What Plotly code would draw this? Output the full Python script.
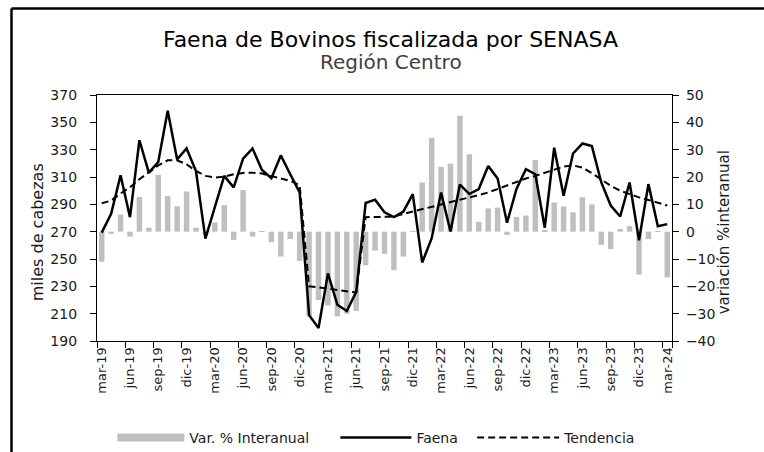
import plotly.graph_objects as go

# --- data (mar-19 .. mar-24) ---
meses = ["ene", "feb", "mar", "abr", "may", "jun", "jul", "ago", "sep", "oct", "nov", "dic"]
periodos = []
for anio in range(19, 25):
    for m in meses:
        periodos.append(f"{m}-{anio}")
periodos = periodos[periodos.index("mar-19"):periodos.index("mar-24") + 1]

faena = [
    269.3, 283.0, 311.3, 280.6, 336.9, 313.2, 321.0, 358.4, 322.9, 330.9,
    314.4, 264.9, 287.9, 310.8, 302.4, 323.4, 330.9, 315.2, 309.1, 325.8,
    312.0, 298.7, 208.9, 199.5, 239.5, 216.5, 212.0, 226.0, 291.0, 293.4,
    284.2, 280.6, 284.7, 297.5, 247.5, 265.0, 298.7, 270.2, 304.5, 297.5,
    301.2, 318.1, 308.9, 276.5, 301.2, 315.7, 312.0, 272.9, 331.4, 296.3,
    327.2, 334.5, 332.6, 306.0, 289.1, 281.1, 306.0, 263.7, 304.8, 273.9,
    275.5,
]

tendencia = [
    290.8, 292.7, 298.0, 302.4, 308.4, 313.2, 318.5, 322.2, 322.2, 319.3,
    314.4, 310.8, 309.6, 310.3, 312.0, 313.0, 313.2, 312.5, 310.8, 308.9,
    307.2, 304.0, 230.0, 229.2, 228.2, 227.2, 226.3, 225.5, 280.6, 280.6,
    280.6, 281.0, 283.0, 284.7, 286.2, 287.9, 289.6, 291.5, 293.4, 295.1,
    296.8, 298.7, 301.2, 304.0, 306.5, 308.9, 310.8, 313.0, 315.7, 317.6,
    318.5, 316.9, 312.8, 307.9, 303.6, 300.0, 297.5, 295.1, 293.2, 291.0,
    289.1,
]

var_interanual = [
    -11.0, -0.8, 6.3, -1.8, 12.7, 1.4, 20.8, 13.0, 9.3, 14.7,
    1.4, -1.0, 3.4, 9.7, -3.0, 15.2, -1.8, 0.2, -3.9, -9.1,
    -2.7, -10.7, -31.0, -25.0, -27.0, -31.0, -30.0, -29.0, -12.3, -6.9,
    -8.1, -14.1, -9.1, 0.2, 18.0, 34.3, 23.7, 24.9, 42.4, 28.3,
    3.6, 8.5, 8.8, -1.2, 5.4, 5.9, 26.2, 0.5, 10.7, 9.2,
    7.1, 12.6, 10.0, -4.8, -6.4, 1.0, 2.0, -15.7, -2.7, 0.2,
    -16.7,
]

etiquetas_x = periodos[::3]

FONT = "DejaVu Sans"
TXT = "#1a1a1a"
GRIS = "#bfbfbf"

fig = go.Figure()

# bars go on the base axis (right side) so the lines are drawn above them
fig.add_trace(go.Bar(
    x=periodos, y=var_interanual, yaxis="y",
    marker={"color": GRIS, "line": {"width": 0}},
    name="Var. % Interanual", legendgroup="var", showlegend=False,
))
# legend-only stand-in for the wide grey legend swatch
fig.add_trace(go.Scatter(
    x=[None], y=[None], yaxis="y", mode="lines",
    line={"color": GRIS, "width": 8},
    name="Var. % Interanual", legendgroup="var", legend="legend",
))
fig.add_trace(go.Scatter(
    x=periodos, y=faena, yaxis="y2", mode="lines",
    line={"color": "black", "width": 2.5},
    name="Faena", legend="legend2",
))
fig.add_trace(go.Scatter(
    x=periodos, y=tendencia, yaxis="y2", mode="lines",
    line={"color": "black", "width": 2, "dash": "7px,4px"},
    name="Tendencia", legend="legend3",
))

# outer frame (only left and top edges are visible in the crop)
marco = {"color": "black", "width": 2.5}
fig.add_shape(type="line", xref="paper", yref="paper",
              x0=-0.1487, x1=-0.1487, y0=-0.5, y1=1.3516, line=marco)
fig.add_shape(type="line", xref="paper", yref="paper",
              x0=-0.1487, x1=1.2, y0=1.3516, y1=1.3516, line=marco)

fig.add_annotation(
    text="Faena de Bovinos fiscalizada por SENASA",
    xref="paper", yref="paper", x=0.511, y=1.2236, yanchor="middle",
    showarrow=False, font={"family": FONT, "size": 22, "color": "black"},
)
fig.add_annotation(
    text="Región Centro",
    xref="paper", yref="paper", x=0.511, y=1.1341, yanchor="middle",
    showarrow=False, font={"family": FONT, "size": 20, "color": "#404040"},
)
# axis titles
fig.add_annotation(
    text="miles de cabezas", textangle=-90,
    xref="paper", yref="paper", x=-0.104, y=0.443,
    xanchor="center", yanchor="middle", showarrow=False,
    font={"family": FONT, "size": 16, "color": TXT},
)
fig.add_annotation(
    text="variación %interanual", textangle=-90,
    xref="paper", yref="paper", x=1.091, y=0.443,
    xanchor="center", yanchor="middle", showarrow=False,
    font={"family": FONT, "size": 15, "color": TXT},
)

eje = {
    "showline": True, "linecolor": "black", "linewidth": 1.2,
    "ticks": "outside", "ticklen": 6, "tickcolor": "black",
    "showgrid": False, "zeroline": False,
    "tickfont": {"family": FONT, "size": 14, "color": TXT},
}

leyenda = {
    "orientation": "h", "xref": "container", "yref": "container",
    "y": 0.031, "xanchor": "left", "yanchor": "middle",
    "font": {"family": FONT, "size": 14, "color": TXT},
    "bgcolor": "rgba(0,0,0,0)",
}

fig.update_layout(
    width=764, height=452,
    margin={"l": 97, "r": 92, "t": 95, "b": 111},
    paper_bgcolor="white", plot_bgcolor="white",
    font={"family": FONT, "color": TXT},
    bargap=0.42,
    xaxis={
        **eje,
        "type": "category", "mirror": True,
        "tickmode": "array", "tickvals": etiquetas_x, "ticktext": etiquetas_x,
        "tickangle": -90, "tickson": "boundaries",
        "tickfont": {"family": FONT, "size": 13, "color": TXT},
        "range": [-0.5, len(periodos) - 0.5],
    },
    yaxis={
        **eje,
        "side": "right", "range": [-40, 50], "dtick": 10,
        "ticklabelstandoff": 4,
    },
    yaxis2={
        **eje,
        "side": "left", "overlaying": "y", "range": [190, 370],
        "tick0": 190, "dtick": 20, "ticklabelstandoff": 10,
    },
    legend={**leyenda, "x": 0.147, "itemwidth": 67},
    legend2={**leyenda, "x": 0.439, "itemwidth": 71},
    legend3={**leyenda, "x": 0.618, "itemwidth": 82},
)

fig.write_html(
    "out.html",
    config={"displayModeBar": False},
    post_script="document.body.style.margin='0';",
)
